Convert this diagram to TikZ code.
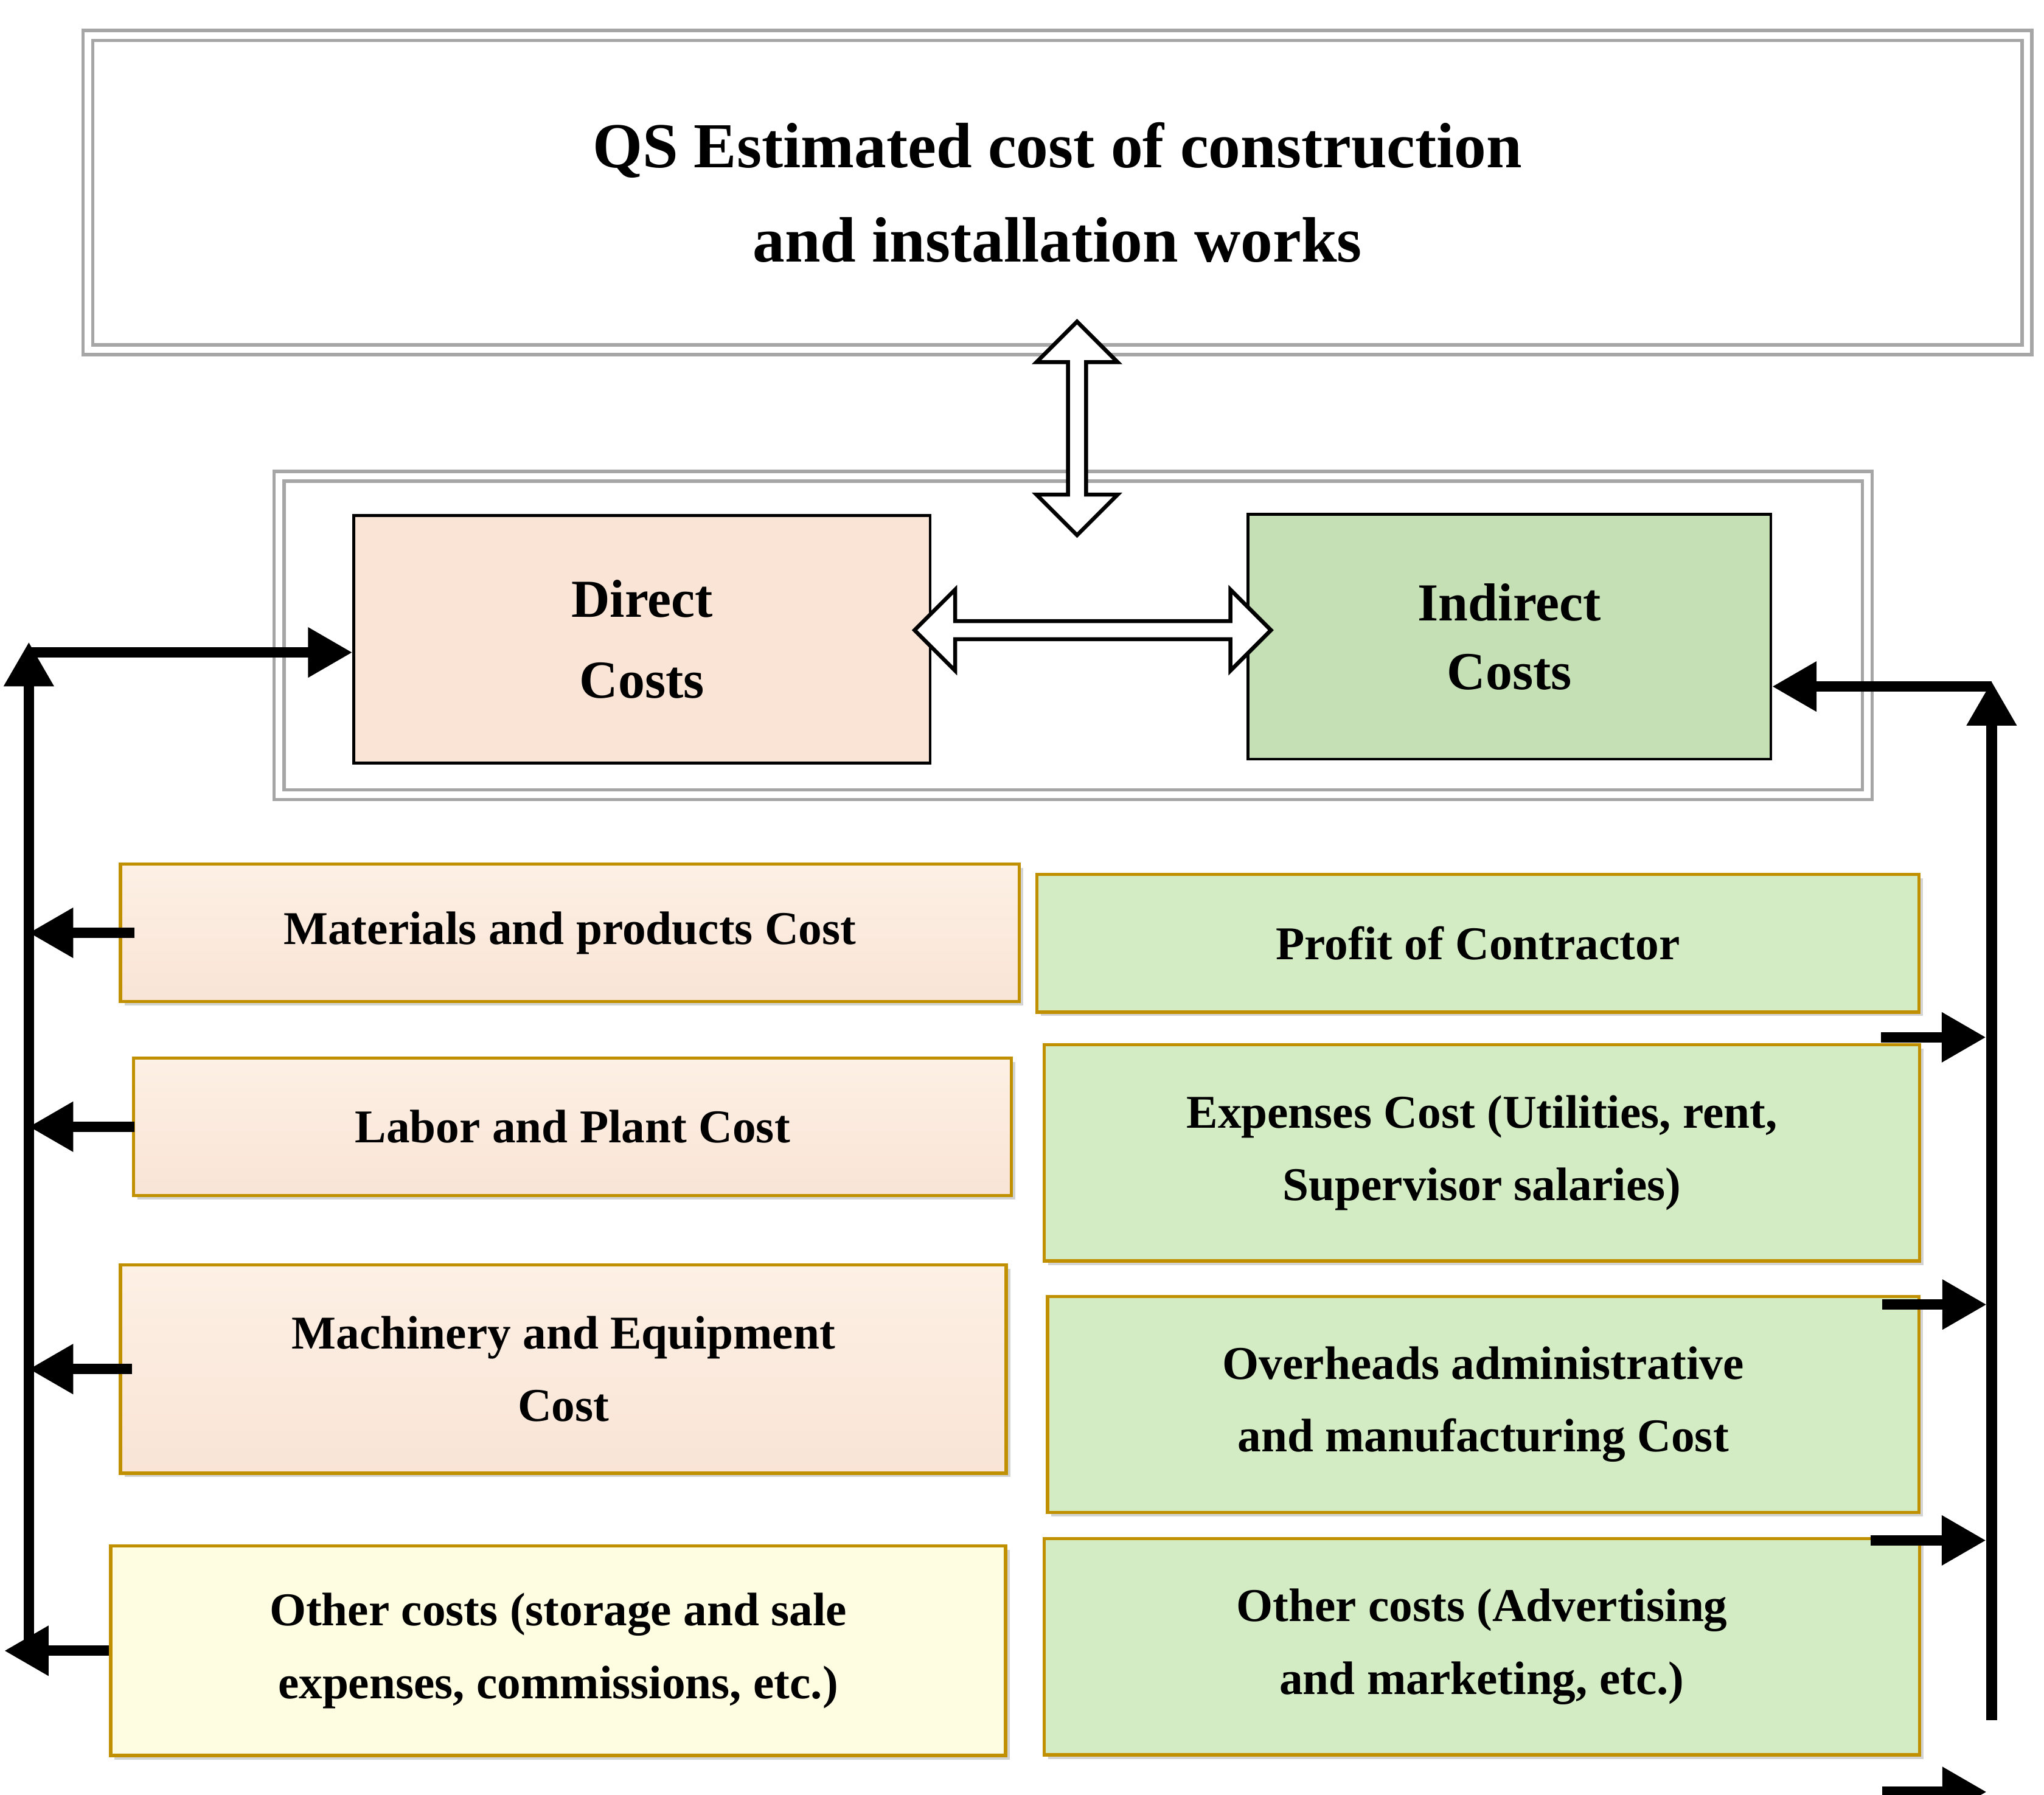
\documentclass[tikz,border=0pt]{standalone}
\usepackage{fontspec}
\setmainfont{Liberation Serif}
\usetikzlibrary{arrows.meta,positioning,shapes.arrows,shadows}
\newlength\pu
\setlength\pu{0.02154cm}
\definecolor{peach}{HTML}{F9E4D6}
\definecolor{peachlt}{HTML}{FDF0E4}
\definecolor{paleyel}{HTML}{FEFDE2}
\definecolor{leaf}{HTML}{C5E0B4}
\definecolor{leaflt}{HTML}{D4ECC4}
\definecolor{gold}{HTML}{C09000}
\begin{document}
\begin{tikzpicture}[x=\pu,y=-\pu,
		every node/.style={align=center,font=\bfseries},
		frame/.style={draw=gray!70,line width=2.5\pu,double=white,double distance=5\pu},
		costbox/.style={draw=black,line width=2\pu},
		leftbox/.style={draw=gold,line width=2.5\pu,top color=peachlt,bottom color=peach,drop shadow={opacity=0.35,shadow xshift=3\pu,shadow yshift=-3\pu},font=\bfseries\fontsize{22pt}{34pt}\selectfont},
		rightbox/.style={draw=gold,line width=2.5\pu,fill=leaflt,drop shadow={opacity=0.35,shadow xshift=3\pu,shadow yshift=-3\pu},font=\bfseries\fontsize{22pt}{34pt}\selectfont},
		fat/.style={double arrow,draw=black,fill=white,line width=3\pu,double arrow head extend=24\pu},
		busarrow/.style={line width=8\pu,-{Triangle[length=0.73cm,width=0.78cm]}}
	]
	\useasboundingbox (0,0) rectangle (1560,1370);
	% top box
	\node[frame,minimum width=1480\pu,minimum height=240\pu,font=\bfseries\fontsize{30pt}{44pt}\selectfont](top) at (807,147){QS Estimated cost of construction\\and installation works};
	% container with direct / indirect
	\node[frame,minimum width=1212\pu,minimum height=243\pu](cont) at (819,485){};
	\node[costbox,fill=peach,minimum width=440\pu,minimum height=189\pu,font=\bfseries\fontsize{25pt}{38pt}\selectfont](direct) at (490,488){Direct\\Costs};
	\node[costbox,fill=leaf,minimum width=399\pu,minimum height=187\pu,font=\bfseries\fontsize{25pt}{32pt}\selectfont](indirect) at (1152,486){Indirect\\Costs};
	\node[fat,rotate=90,minimum height=163\pu,minimum width=40\pu](ud) at (822,327){};
	\node[fat,minimum height=272\pu,minimum width=50\pu](lr) at (834,481){};
	% left column
	\node[leftbox,minimum width=686\pu,minimum height=105\pu](m1) at (435,712){Materials and products Cost};
	\node[leftbox,minimum width=670\pu,minimum height=105\pu](m2) at (437,860){Labor and Plant Cost};
	\node[leftbox,minimum width=676\pu,minimum height=159\pu](m3) at (430,1045){Machinery and Equipment\\Cost};
	\node[leftbox,top color=paleyel,bottom color=paleyel,minimum width=683\pu,minimum height=160\pu](m4) at (426,1260){Other costs (storage and sale\\expenses, commissions, etc.)};
	% right column
	\node[rightbox,minimum width=673\pu,minimum height=105\pu](p1) at (1128,720){Profit of Contractor};
	\node[rightbox,minimum width=668\pu,minimum height=165\pu](p2) at (1131,880){Expenses Cost (Utilities, rent,\\Supervisor salaries)};
	\node[rightbox,minimum width=665\pu,minimum height=165\pu](p3) at (1132,1072){Overheads administrative\\and manufacturing Cost};
	\node[rightbox,minimum width=668\pu,minimum height=165\pu](p4) at (1131,1257){Other costs (Advertising\\and marketing, etc.)};
	% buses
	\coordinate (ltop) at (22,490);
	\coordinate (lbot) at (22,1262);
	\coordinate (rtop) at (1520,520);
	\coordinate (rbot) at (1520,1313);
	\draw[busarrow] (lbot) -- (ltop);
	\draw[busarrow] ([yshift=-10\pu]ltop|-direct.west) -- ([yshift=-10\pu]direct.west);
	\draw[busarrow] ([xshift=12\pu]m1.west) -- (m1.west-|ltop);
	\draw[busarrow] ([xshift=2\pu]m2.west) -- (m2.west-|ltop);
	\draw[busarrow] ([xshift=10\pu]m3.west) -- (m3.west-|ltop);
	\draw[busarrow] (m4.west) -- ++(-80,0);
	\draw[busarrow] (rbot) -- (rtop);
	\draw[busarrow] ([yshift=-4\pu]rtop) -- ([yshift=-4\pu]rtop-|indirect.east);
	\draw[busarrow] ([xshift=-30\pu,yshift=-18\pu]p1.south east) -- ++(80,0);
	\draw[busarrow] ([xshift=-30\pu,yshift=-32\pu]p2.south east) -- ++(80,0);
	\draw[busarrow] ([xshift=-38\pu,yshift=-20\pu]p3.south east) -- ++(88,0);
	\draw[busarrow] ([xshift=-30\pu,yshift=-27\pu]p4.south east) -- ++(80,0);
\end{tikzpicture}
\end{document}
